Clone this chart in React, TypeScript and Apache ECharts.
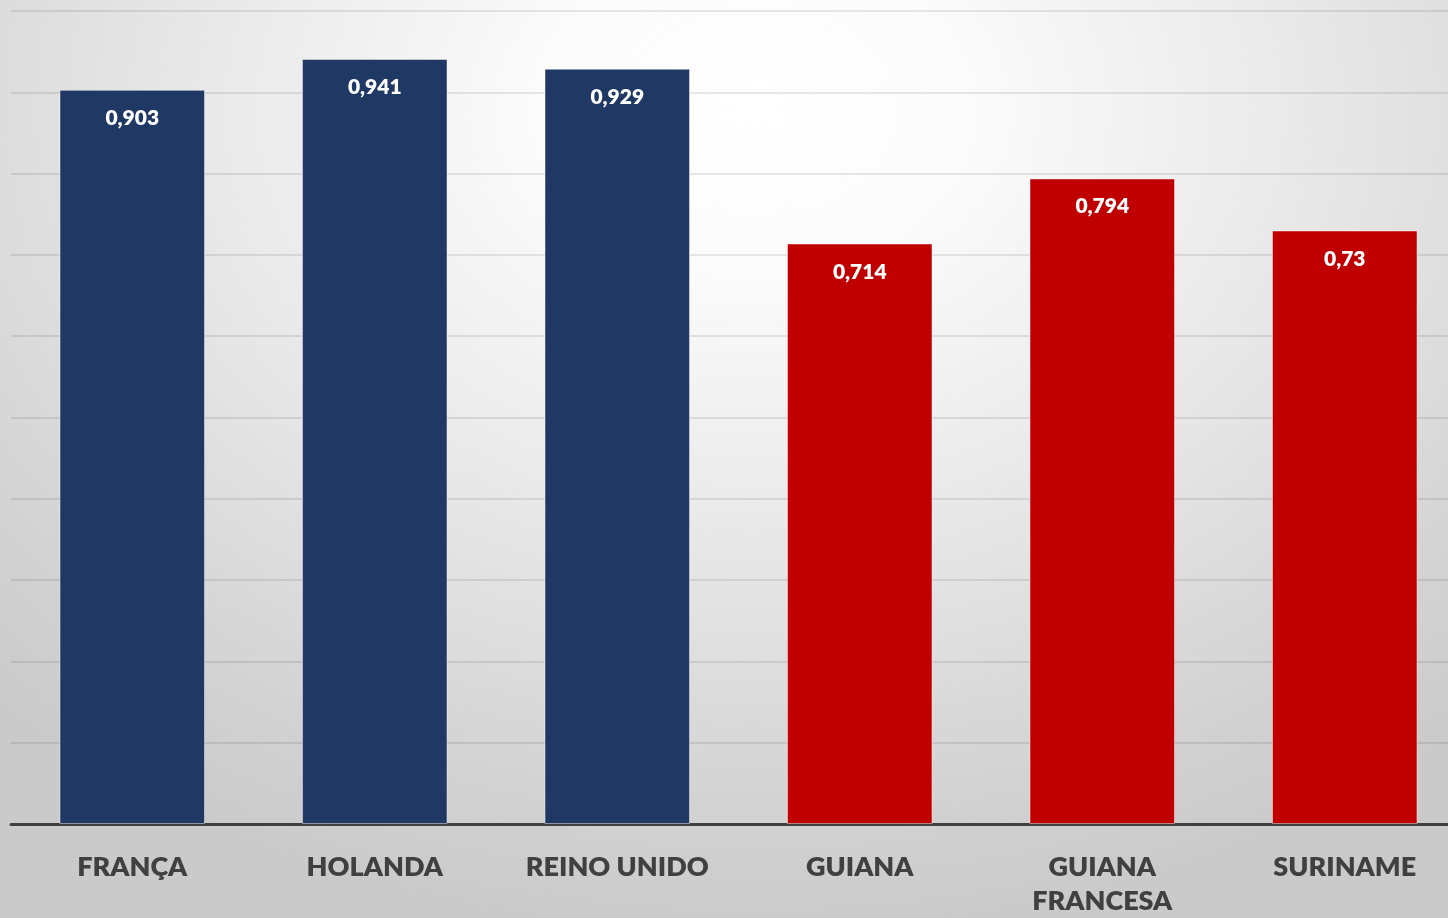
import React, { useEffect, useRef } from "react";
import * as echarts from "echarts";

const categories = ["FRANÇA", "HOLANDA", "REINO UNIDO", "GUIANA", "GUIANA\nFRANCESA", "SURINAME"];
const values = [0.903, 0.941, 0.929, 0.714, 0.794, 0.73];
const groups = ["europe", "europe", "europe", "america", "america", "america"];

const groupColors: Record<string, string> = { europe: "#203864", america: "#C00000" };

export default function App() {
  const ref = useRef<HTMLDivElement>(null);
  useEffect(() => {
    if (!ref.current) return;
    const chart = echarts.init(ref.current, null, { renderer: "svg" });
    chart.setOption({
      animation: false,
      backgroundColor: "transparent",
      grid: { left: 11, top: 11, bottom: 94, width: 1455, containLabel: false, outerBoundsMode: "none" },
      xAxis: {
        type: "category",
        data: categories,
        axisTick: { show: false },
        axisLine: { lineStyle: { color: "#404040", width: 3 } },
        axisLabel: {
          fontFamily: "Lato",
          fontWeight: 800,
          fontSize: 27,
          color: "#404040",
          lineHeight: 34,
          margin: 24,
          interval: 0,
        },
      },
      yAxis: {
        type: "value",
        min: 0,
        max: 1,
        interval: 0.1,
        axisLabel: { show: false },
        axisLine: { show: false },
        axisTick: { show: false },
        splitLine: { lineStyle: { color: "rgba(0,0,0,0.09)", width: 2 } },
      },
      series: [
        {
          type: "bar",
          barWidth: "60%",
          data: values.map((v, i) => ({
            value: v,
            itemStyle: {
              color: groupColors[groups[i]],
              borderColor: "rgba(255,255,255,0.45)",
              borderWidth: 1,
            },
          })),
          label: {
            show: true,
            position: "insideTop",
            distance: 16,
            color: "#ffffff",
            fontFamily: "Lato",
            fontWeight: 800,
            fontSize: 21,
            formatter: (p: any) => String(p.value).replace(".", ","),
          },
        },
      ],
    });
    return () => chart.dispose();
  }, []);
  return (
    <div
      style={{
        position: "fixed",
        left: 0,
        top: 0,
        width: 1448,
        height: 918,
        background:
          "radial-gradient(ellipse 75% 90% at 52% 12%, #ffffff 0%, #fbfbfb 20%, #e6e6e6 55%, #d2d2d2 85%, #cacaca 100%)",
      }}
    >
      <div ref={ref} style={{ width: 1448, height: 918 }} />
    </div>
  );
}
